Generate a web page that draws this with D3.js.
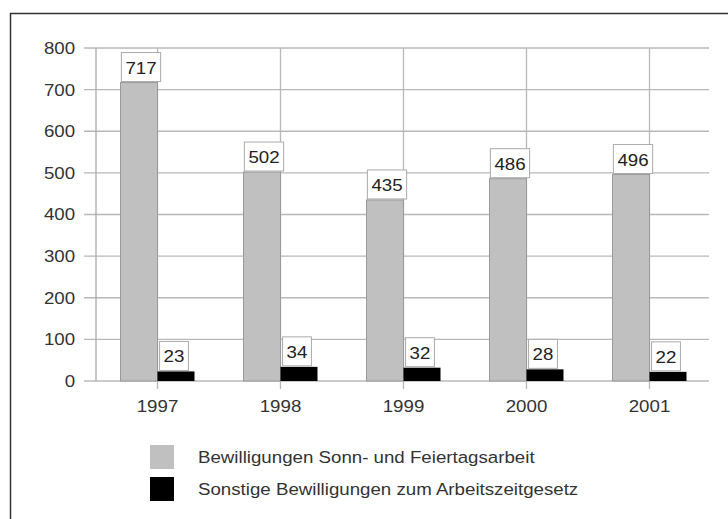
<!DOCTYPE html>
<html>
<head>
<meta charset="utf-8">
<script src="https://cdn.jsdelivr.net/npm/d3@7/dist/d3.min.js"></script>
<style>
  html, body { margin: 0; padding: 0; background: #fff; }
  svg { display: block; font-family: "Liberation Sans", Arial, sans-serif; }
</style>
</head>
<body>
<svg id="chart" width="728" height="519"></svg>
<script>
const years = ["1997", "1998", "1999", "2000", "2001"];
const sonnFeiertag = [717, 502, 435, 486, 496];
const sonstige = [23, 34, 32, 28, 22];
const seriesNames = [
  "Bewilligungen Sonn- und Feiertagsarbeit",
  "Sonstige Bewilligungen zum Arbeitszeitgesetz"
];
const seriesColors = ["#c0c0c0", "#000000"];
const yTicks = [0, 100, 200, 300, 400, 500, 600, 700, 800];

const FONT = "Liberation Sans, Arial, sans-serif";
const STRETCH = 1.1; // slightly widened lettering

const svg = d3.select("#chart");

// outer frame
svg.append("rect")
  .attr("x", 10.5).attr("y", 13.5)
  .attr("width", 740).attr("height", 540)
  .attr("fill", "none").attr("stroke", "#333").attr("stroke-width", 1.5);

const plot = { left: 96, right: 711, top: 48, bottom: 381 };

const x = d3.scaleBand().domain(years).range([plot.left, plot.right]).padding(0);
const y = d3.scaleLinear().domain([0, 800]).range([plot.bottom, plot.top]);
const barW = 37;
const center = d => x(d) + x.bandwidth() / 2;

// horizontal gridlines
svg.append("g").selectAll("line").data(yTicks).join("line")
  .attr("x1", plot.left - 12).attr("x2", plot.right - 2)
  .attr("y1", d => y(d)).attr("y2", d => y(d))
  .attr("stroke", "#b8b8b8").attr("stroke-width", 1.3);

// vertical gridlines at category centres
svg.append("g").selectAll("line").data(years).join("line")
  .attr("x1", center).attr("x2", center)
  .attr("y1", plot.top).attr("y2", plot.bottom + 8)
  .attr("stroke", "#b8b8b8").attr("stroke-width", 1.3);

// value axis line
svg.append("line")
  .attr("x1", plot.left).attr("x2", plot.left)
  .attr("y1", plot.top).attr("y2", plot.bottom)
  .attr("stroke", "#aaa").attr("stroke-width", 1.3);

// y tick labels
const yAxis = d3.axisLeft(y).tickValues(yTicks).tickSize(0).tickPadding(19);
const gy = svg.append("g").attr("transform", `translate(${plot.left},0)`).call(yAxis);
gy.select(".domain").remove();
gy.selectAll("text").attr("font-size", 17).attr("fill", "#333")
  .attr("font-family", FONT).attr("transform", `scale(${STRETCH},1)`);

// x tick labels
const xAxis = d3.axisBottom(x).tickSize(0).tickPadding(19);
const gx = svg.append("g").attr("transform", `translate(0,${plot.bottom})`).call(xAxis);
gx.select(".domain").remove();
gx.selectAll("text").attr("font-size", 17).attr("fill", "#333")
  .attr("font-family", FONT).attr("transform", `scale(${STRETCH},1)`);

// bars
svg.append("g").selectAll("rect").data(years).join("rect")
  .attr("x", d => center(d) - barW)
  .attr("y", (d, i) => y(sonnFeiertag[i]))
  .attr("width", barW)
  .attr("height", (d, i) => y(0) - y(sonnFeiertag[i]))
  .attr("fill", seriesColors[0]).attr("stroke", "#9a9a9a").attr("stroke-width", 1);

svg.append("g").selectAll("rect").data(years).join("rect")
  .attr("x", d => center(d))
  .attr("y", (d, i) => y(sonstige[i]))
  .attr("width", barW)
  .attr("height", (d, i) => y(0) - y(sonstige[i]))
  .attr("fill", seriesColors[1]);

// value labels in boxes
function addLabels(values, offset) {
  const g = svg.append("g").selectAll("g").data(years).join("g")
    .attr("transform", (d, i) => `translate(${center(d) + offset},${y(values[i]) - 1})`);
  g.append("text")
    .attr("text-anchor", "middle").attr("y", -8)
    .attr("font-size", 17).attr("fill", "#222")
    .attr("transform", `scale(${STRETCH},1)`)
    .text((d, i) => values[i]);
  g.each(function () {
    const t = d3.select(this).select("text");
    const bb = t.node().getBBox();
    const w = bb.width * STRETCH + 8, h = 29;
    d3.select(this).insert("rect", "text")
      .attr("x", -w / 2).attr("y", -h).attr("width", w).attr("height", h)
      .attr("fill", "#fff").attr("stroke", "#aaa").attr("stroke-width", 1);
  });
}
addLabels(sonnFeiertag, -barW / 2 + 2);
addLabels(sonstige, barW / 2 - 2);

// legend
const legend = svg.append("g").selectAll("g").data(seriesNames).join("g")
  .attr("transform", (d, i) => `translate(150,${445 + i * 32})`);
legend.append("rect")
  .attr("width", 24).attr("height", 24)
  .attr("fill", (d, i) => seriesColors[i]);
legend.append("text")
  .attr("transform", `translate(48,12) scale(${STRETCH},1)`)
  .attr("dy", "0.35em")
  .attr("font-size", 17).attr("fill", "#333")
  .text(d => d);
</script>
</body>
</html>
